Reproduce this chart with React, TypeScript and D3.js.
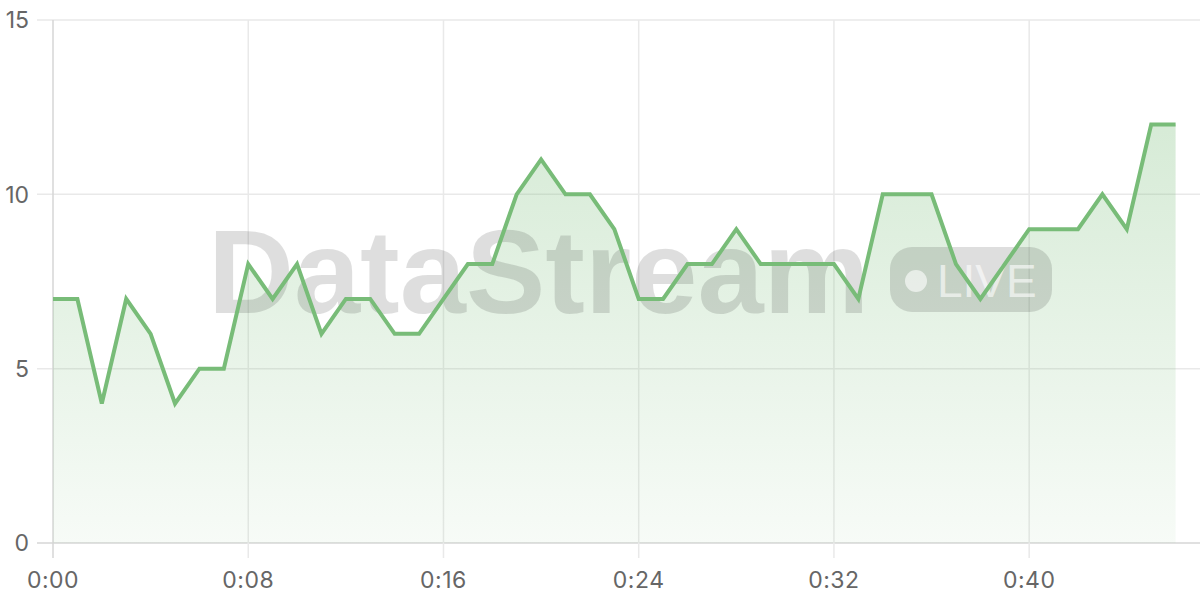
import React, { useEffect, useRef } from "react";
import * as d3 from "d3";

const seconds = d3.range(0, 47);
const values = [7, 7, 4, 7, 6, 4, 5, 5, 8, 7, 8, 6, 7, 7, 6, 6, 7, 8, 8, 10, 11, 10, 10, 9, 7, 7, 8, 8, 9, 8, 8, 8, 8, 7, 10, 10, 10, 8, 7, 8, 9, 9, 9, 10, 9, 12, 12];
const xTicks = [0, 8, 16, 24, 32, 40];
const yTicks = [0, 5, 10, 15];
const watermark = "DataStream";
const badge = "LIVE";

const W = 1200;
const H = 600;
const LINE = "#78bc78";

export default function App() {
  const ref = useRef<SVGSVGElement>(null);

  useEffect(() => {
    document.body.style.margin = "0";
    const svg = d3.select(ref.current);
    svg.selectAll("*").remove();

    const x = d3.scaleLinear().domain([0, 47]).range([53, 1200]);
    const y = d3.scaleLinear().domain([0, 15]).range([543, 20]);
    const font = "Inter, 'Helvetica Neue', Arial, sans-serif";

    const defs = svg.append("defs");
    const grad = defs.append("linearGradient").attr("id", "fillGrad").attr("x1", 0).attr("y1", 0).attr("x2", 0).attr("y2", 1);
    grad.append("stop").attr("offset", "0%").attr("stop-color", LINE).attr("stop-opacity", 0.3);
    grad.append("stop").attr("offset", "100%").attr("stop-color", LINE).attr("stop-opacity", 0.06);

    // grid
    const g = svg.append("g");
    g.selectAll("line.hg").data(yTicks).join("line")
      .attr("x1", 37).attr("x2", 1200)
      .attr("y1", (d) => y(d)).attr("y2", (d) => y(d))
      .attr("stroke", (d) => (d === 0 ? "#d6d6d6" : "#e9e9e9")).attr("stroke-width", 1.5);
    g.selectAll("line.vg").data(xTicks).join("line")
      .attr("x1", (d) => x(d)).attr("x2", (d) => x(d))
      .attr("y1", 20).attr("y2", 558)
      .attr("stroke", (d) => (d === 0 ? "#d6d6d6" : "#e9e9e9")).attr("stroke-width", 1.5);

    // area
    const area = d3.area<number>()
      .x((_, i) => x(seconds[i]))
      .y0(y(0))
      .y1((d) => y(d));
    svg.append("path").datum(values).attr("d", area).attr("fill", "url(#fillGrad)");

    // watermark
    const wm = svg.append("g");
    wm.append("text")
      .attr("x", 208).attr("y", 313)
      .attr("font-family", "'Liberation Sans', Arial, sans-serif")
      .attr("font-weight", 700).attr("font-size", 119)
      .attr("fill", "rgba(0,0,0,0.13)")
      .text(watermark);
    wm.append("rect")
      .attr("x", 890).attr("y", 247).attr("width", 162).attr("height", 65).attr("rx", 22)
      .attr("fill", "rgba(0,0,0,0.13)");
    wm.append("circle").attr("cx", 916).attr("cy", 281).attr("r", 11).attr("fill", "rgba(255,255,255,0.6)");
    wm.append("text")
      .attr("x", 937).attr("y", 297)
      .attr("font-family", "'Liberation Sans', Arial, sans-serif")
      .attr("font-weight", 400).attr("font-size", 46)
      .attr("fill", "rgba(255,255,255,0.6)")
      .text(badge);

    // line
    const line = d3.line<number>()
      .x((_, i) => x(seconds[i]))
      .y((d) => y(d));
    svg.append("path").datum(values).attr("d", line)
      .attr("fill", "none").attr("stroke", LINE).attr("stroke-width", 4)
      .attr("stroke-linejoin", "miter");

    // labels
    svg.append("g").selectAll("text").data(yTicks).join("text")
      .attr("x", 29).attr("y", (d) => y(d)).attr("dy", "0.36em")
      .attr("text-anchor", "end")
      .attr("font-family", font).attr("font-size", 23).attr("fill", "#666")
      .text((d) => String(d));
    const fmt = (s: number) => `${Math.floor(s / 60)}:${String(s % 60).padStart(2, "0")}`;
    svg.append("g").selectAll("text").data(xTicks).join("text")
      .attr("x", (d) => x(d)).attr("y", 588)
      .attr("text-anchor", "middle")
      .attr("font-family", font).attr("font-size", 23).attr("letter-spacing", 0.5).attr("fill", "#666")
      .text((d) => fmt(d));
  }, []);

  return (
    <svg ref={ref} width={W} height={H} style={{ display: "block", background: "#fff" }} />
  );
}
